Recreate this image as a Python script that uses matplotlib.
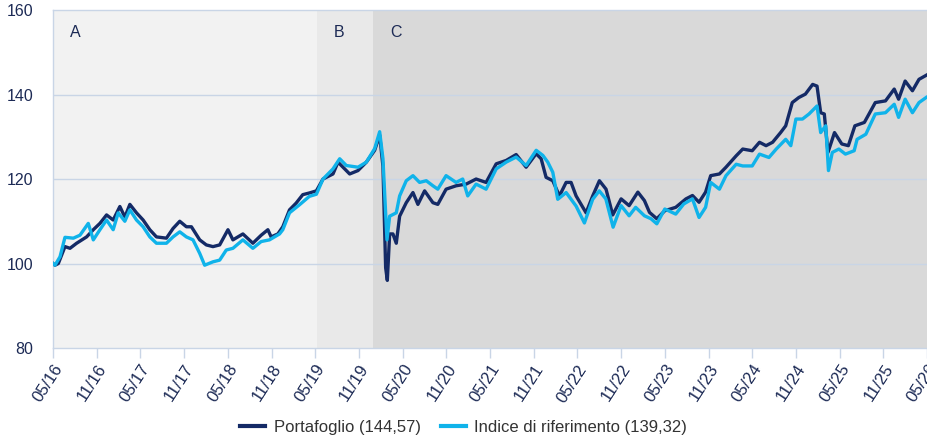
import matplotlib
matplotlib.use("Agg")
import matplotlib.pyplot as plt
from matplotlib.lines import Line2D

# Months elapsed since May 2016 and index level (base 100)
port_months = [0.0, 0.27, 0.73, 1.64, 2.33, 3.24, 4.61, 5.53, 6.44, 7.35, 8.26, 9.18, 9.86,
               10.55, 11.46, 12.37, 13.29, 14.2, 15.57, 16.48, 17.4, 18.31, 19.0, 20.14,
               21.05, 21.96, 22.88, 24.02, 24.7, 26.07, 27.44, 28.58, 29.5, 29.95, 30.87,
               31.55, 32.47, 33.38, 34.29, 35.2, 36.16, 37.07, 38.44, 39.13, 39.82, 40.73,
               41.87, 43.02, 44.16, 44.85, 45.3, 45.67, 45.9, 46.22, 46.67, 47.13, 47.59,
               48.5, 49.42, 50.1, 51.02, 52.16, 52.83, 53.97, 55.34, 56.72, 58.09, 59.46,
               60.85, 62.22, 63.59, 64.96, 66.34, 67.02, 67.7, 68.62, 69.53, 70.45, 71.13,
               71.82, 73.19, 74.1, 75.02, 75.93, 76.85, 78.0, 79.1, 80.3, 81.2, 81.9, 82.9,
               84.0, 85.5, 86.9, 87.8, 88.7, 89.6, 90.3, 91.5, 92.4, 93.8, 94.7, 96.0, 97.0,
               97.9, 98.8, 99.9, 100.6, 101.5, 102.4, 103.3, 104.3, 104.9, 105.4, 105.9,
               106.4, 107.3, 108.3, 109.2, 110.1, 111.4, 112.9, 114.3, 115.5, 116.1, 117.0,
               118.0, 118.9, 119.9]
port_values = [100.0, 99.6, 100.0, 104.0, 103.6, 104.8, 106.3, 108.0, 109.5, 111.5, 110.3,
               113.5, 111.0, 114.0, 112.0, 110.3, 108.0, 106.3, 106.0, 108.3, 110.0, 108.7,
               108.7, 105.6, 104.4, 104.0, 104.4, 108.0, 105.6, 107.0, 104.8, 106.7, 108.0,
               106.3, 107.0, 108.7, 112.7, 114.3, 116.3, 116.7, 117.2, 120.0, 121.2, 124.0,
               122.8, 121.2, 122.0, 124.0, 126.8, 130.4, 123.0, 99.0, 96.0, 107.0, 107.0,
               104.8, 111.2, 114.4, 116.8, 114.0, 117.2, 114.4, 114.0, 117.6, 118.4, 118.8,
               120.0, 119.2, 123.6, 124.4, 125.8, 122.8, 126.0, 124.8, 120.4, 119.6, 116.0,
               119.2, 119.2, 116.0, 112.0, 116.0, 119.6, 117.6, 111.5, 115.3, 113.7, 116.9,
               114.9, 112.1, 110.6, 112.5, 113.3, 115.3, 116.1, 114.5, 116.9, 120.8, 121.2,
               122.8, 125.5, 127.1, 126.7, 128.7, 127.9, 128.7, 131.0, 132.6, 138.1, 139.3,
               140.1, 142.4, 142.0, 135.7, 135.4, 126.3, 131.0, 128.3, 127.9, 132.6, 133.4,
               138.1, 138.5, 141.3, 138.9, 143.2, 140.9, 143.6, 144.57]

bench_months = [0.0, 0.27, 0.96, 1.64, 2.79, 3.7, 4.84, 5.53, 6.44, 7.35, 8.26, 8.95, 9.86,
                10.55, 11.46, 12.37, 13.29, 14.2, 15.57, 16.48, 17.4, 18.31, 19.22, 20.14,
                20.82, 21.96, 22.88, 23.79, 24.7, 26.07, 27.44, 28.58, 29.72, 31.1, 31.55,
                32.47, 33.84, 35.2, 36.16, 37.07, 38.44, 39.36, 40.27, 41.87, 43.02, 44.16,
                44.85, 45.3, 45.85, 46.22, 47.13, 47.59, 48.5, 49.42, 50.33, 51.25, 52.16,
                52.83, 53.97, 55.34, 56.25, 56.94, 58.09, 59.46, 60.85, 62.22, 63.59, 64.96,
                66.34, 67.25, 67.93, 68.62, 69.3, 70.45, 71.82, 72.96, 74.1, 75.0, 75.9,
                76.9, 78.0, 79.1, 80.0, 81.2, 82.1, 82.9, 84.0, 85.5, 86.6, 87.8, 88.7, 89.6,
                90.3, 91.5, 92.4, 93.8, 94.7, 96.0, 97.0, 98.3, 99.3, 100.6, 101.3, 102.0,
                102.9, 103.8, 104.9, 105.4, 106.1, 106.47, 107.0, 107.9, 108.8, 110.0, 110.4,
                111.6, 112.9, 114.3, 115.5, 116.1, 117.0, 118.0, 118.9, 119.9]
bench_values = [100.0, 99.6, 101.6, 106.2, 106.0, 106.7, 109.5, 105.6, 108.0, 110.3, 108.0,
                112.0, 110.0, 112.7, 110.3, 108.7, 106.3, 104.8, 104.8, 106.3, 107.5, 106.3,
                105.6, 102.4, 99.6, 100.4, 100.8, 103.2, 103.6, 105.6, 103.6, 105.2, 105.6,
                107.0, 108.0, 112.0, 113.9, 115.9, 116.4, 120.0, 122.4, 124.8, 123.2, 122.8,
                124.0, 127.2, 131.2, 124.8, 105.6, 111.2, 112.0, 116.0, 119.6, 120.8, 119.2,
                119.6, 118.4, 117.6, 120.8, 119.2, 120.0, 116.0, 118.8, 117.6, 122.4, 124.0,
                125.2, 123.2, 126.8, 125.6, 124.0, 121.6, 115.2, 116.8, 113.6, 109.6, 115.2,
                117.2, 115.3, 108.6, 113.7, 111.3, 113.3, 111.3, 110.6, 109.4, 112.9, 111.7,
                114.1, 115.3, 110.9, 113.3, 119.2, 117.6, 120.8, 123.5, 123.1, 123.1, 125.9,
                125.1, 127.1, 129.4, 127.9, 134.2, 134.2, 135.4, 137.3, 131.0, 132.6, 122.0,
                126.3, 127.1, 125.9, 126.7, 129.4, 130.6, 135.4, 135.7, 137.7, 134.6, 138.9,
                135.7, 138.1, 139.32]

tick_months = list(range(0, 121, 6))
tick_labels = ["05/16", "11/16", "05/17", "11/17", "05/18", "11/18", "05/19", "11/19",
               "05/20", "11/20", "05/21", "11/21", "05/22", "11/22", "05/23", "11/23",
               "05/24", "11/24", "05/25", "11/25", "05/26"]

# Phases: label, start month, end month
phase_names = ["A", "B", "C"]
phase_starts = [0.0, 36.2, 44.0]
phase_ends = [36.2, 44.0, 120.0]
phase_colors = ["#f2f2f2", "#e9e9e9", "#d9d9d9"]

legend_labels = ["Portafoglio (144,57)", "Indice di riferimento (139,32)"]

NAVY = "#142a66"
CYAN = "#10b3ea"
GRID = "#c9d5e6"
TEXT = "#1c2a55"

plt.rcParams["font.family"] = ["Liberation Sans", "DejaVu Sans"]

fig = plt.figure(figsize=(9.27, 4.38), dpi=100)
ax = fig.add_axes([0.0572, 0.2055, 0.9428, 0.7715])

for name, s, e, c in zip(phase_names, phase_starts, phase_ends, phase_colors):
    ax.axvspan(s, e, color=c, lw=0, zorder=0)
    ax.annotate(name, xy=(s, 160), xycoords="data", xytext=(12, -11),
                textcoords="offset points", ha="left", va="top",
                fontsize=11.5, color=TEXT)

for yv in (100, 120, 140):
    ax.axhline(yv, color=GRID, lw=1.0, zorder=1)

ax.plot(port_months, port_values, color=NAVY, lw=2.4, zorder=3,
        solid_joinstyle="round")
ax.plot(bench_months, bench_values, color=CYAN, lw=2.4, zorder=4,
        solid_joinstyle="round")

ax.set_xlim(0, 119.9)
ax.set_ylim(80, 160)
ax.set_yticks([80, 100, 120, 140, 160])
ax.set_yticklabels(["80", "100", "120", "140", "160"])
ax.set_xticks(tick_months)
ax.set_xticklabels(tick_labels, rotation=57, ha="right", rotation_mode="anchor")

ax.tick_params(axis="y", length=0, pad=14, labelsize=11.5, labelcolor=TEXT)
ax.tick_params(axis="x", length=7, width=1, color=GRID, pad=3,
               labelsize=12, labelcolor=TEXT)
for lbl in ax.get_yticklabels():
    lbl.set_horizontalalignment("right")

for side in ("left", "top", "bottom"):
    ax.spines[side].set_color(GRID)
    ax.spines[side].set_linewidth(1.0)
ax.spines["right"].set_visible(False)

handles = [Line2D([], [], color=NAVY, lw=3), Line2D([], [], color=CYAN, lw=3)]
leg = fig.legend(handles, legend_labels, loc="center", bbox_to_anchor=(0.5, 0.025),
                 ncol=2, frameon=False, handlelength=1.5,
                 handletextpad=0.5, columnspacing=1.2,
                 prop={"family": ["Liberation Sans"], "size": 12})
for t in leg.get_texts():
    t.set_color("#333333")

fig.savefig("out.png", dpi=100)
